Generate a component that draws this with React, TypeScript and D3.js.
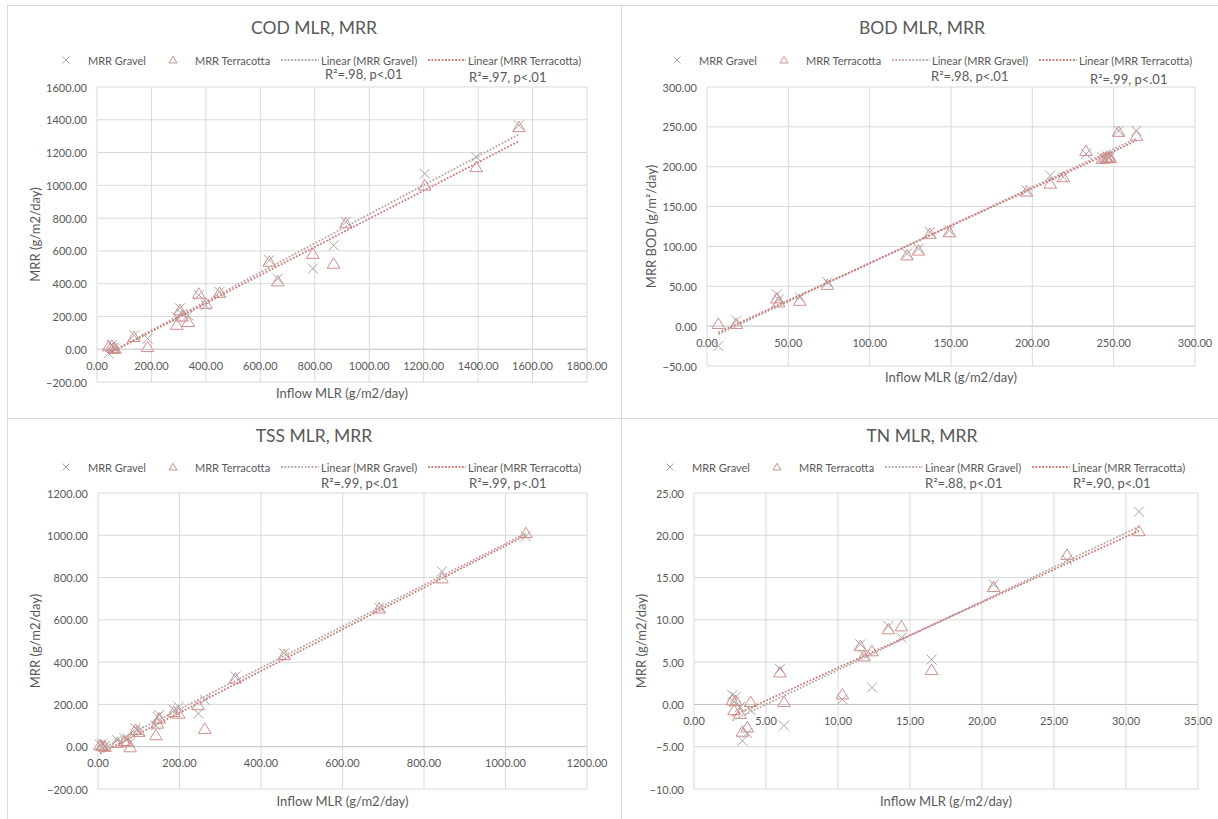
import React from 'react'
import * as d3 from 'd3'

// ---- data ----
const codInflow = [43, 55, 60, 66, 136, 186, 293, 305, 312, 335, 374, 400, 450, 633, 664, 793, 869, 914, 1204, 1393, 1550]
const codGravel = [-26, 25, 10, 5, 85, 65, 197, 250, 215, 207, 330, 268, 350, 543, 431, 492, 634, 777, 1071, 1173, 1366]
const codTerra = [18, 22, 8, 3, 75, 14, 150, 238, 200, 167, 340, 278, 345, 535, 415, 583, 523, 770, 1000, 1112, 1356]

const bodInflow = [7, 18, 43, 44, 57, 74, 123, 130, 137, 149, 196.5, 211, 219, 233, 243, 245, 246, 247, 248, 253, 264]
const bodGravel = [-25, 7, 40, 33, 36, 55, 91, 97, 118, 120, 170, 189, 187, 216, 212, 210, 213, 211, 214, 245, 245]
const bodTerra = [3, 3, 35, 30, 32, 52, 89, 95, 116, 118, 169, 179, 187, 220, 210, 211, 211, 212, 211, 244, 239]

const tssInflow = [5, 10, 17, 47, 65, 72, 79, 92, 100, 142, 146, 150, 186, 198, 246, 262, 337, 457, 690, 844, 1050]
const tssGravel = [8, 12, 3, 31, 40, 39, 20, 86, 75, 100, 141, 150, 174, 189, 157, 221, 332, 442, 658, 829, 995]
const tssTerra = [8, 5, 0, 19, 28, 24, -2, 80, 71, 55, 110, 134, 165, 157, 197, 85, 323, 434, 655, 797, 1011]

const tnInflow = [2.66, 2.78, 2.9, 3.2, 3.36, 3.7, 3.93, 5.97, 6.25, 10.3, 11.55, 11.8, 12.36, 13.5, 14.4, 16.5, 20.8, 25.9, 30.9]
const tnGravel = [1.1, 0.3, 0.9, -0.3, -4.3, -3.4, -0.66, 4.2, -2.5, 0.6, 7.1, 5.9, 2.0, 9.25, 7.9, 5.3, 14.2, 17.1, 22.8]
const tnTerra = [0.5, -0.66, 0.4, -1.1, -3.2, -2.7, 0.3, 3.8, 0.3, 1.2, 6.9, 5.7, 6.3, 8.9, 9.25, 4.1, 13.9, 17.7, 20.5]

const titles = ['COD MLR, MRR', 'BOD MLR, MRR', 'TSS MLR, MRR', 'TN MLR, MRR']
const yTitles = ['MRR (g/m2/day)', 'MRR BOD (g/m\u00b2/day)', 'MRR (g/m2/day)', 'MRR (g/m2/day)']
const xTitle = 'Inflow MLR (g/m2/day)'
const legendLabels = ['MRR Gravel', 'MRR Terracotta', 'Linear (MRR Gravel)', 'Linear (MRR Terracotta)']
const r2Gravel = ['R\u00b2=.98, p<.01', 'R\u00b2=.98, p<.01', 'R\u00b2=.99, p<.01', 'R\u00b2=.88, p<.01']
const r2Terra = ['R\u00b2=.97, p<.01', 'R\u00b2=.99, p<.01', 'R\u00b2=.99, p<.01', 'R\u00b2=.90, p<.01']
const xDomains = [[0, 1800], [0, 300], [0, 1200], [0, 35]]
const yDomains = [[-200, 1600], [-50, 300], [-200, 1200], [-10, 25]]
const xSteps = [200, 50, 200, 5]
const ySteps = [200, 50, 200, 5]

const FONT = 'Lato, "Open Sans", sans-serif'
const TEXT = '#595959'
const GRID = '#d9d9d9'
const GRAVEL = '#a6a6a6'
const TERRA = '#cf8f8a'
const GRAVEL_LINE = '#bfa5a4'
const TERRA_LINE = '#cc7b76'

// panel layout (pixel boxes)
const layout = [
  { x0: 0, l: 97, r: 587, t: 87, b: 382, titleY: 27, legY: 60, yT: 35, xT: 393, shift: 0, r2: [[325, 74], [469, 77]] },
  { x0: 608, l: 707, r: 1195, t: 87, b: 366, titleY: 27, legY: 60, yT: 651, xT: 377, shift: 3, r2: [[931, 76], [1090, 79]] },
  { x0: 0, l: 98, r: 587, t: 493, b: 789, titleY: 435, legY: 467, yT: 35, xT: 801, shift: 0, r2: [[321, 483], [469, 483]] },
  { x0: 608, l: 694, r: 1198, t: 493, b: 789, titleY: 435, legY: 467, yT: 641, xT: 801, shift: -4, r2: [[925, 483], [1073, 483]] },
]

function fit(xs: number[], ys: number[]) {
  const mx = d3.mean(xs)!, my = d3.mean(ys)!
  let sxy = 0, sxx = 0
  xs.forEach((x, i) => { sxy += (x - mx) * (ys[i] - my); sxx += (x - mx) ** 2 })
  const m = sxy / sxx
  return { m, c: my - m * mx }
}

const xMark = (s: number) => `M${-s},${-s}L${s},${s}M${-s},${s}L${s},${-s}`
const triMark = (s: number) => `M0,${-s * 1.05}L${s * 1.15},${s * 0.85}L${-s * 1.15},${s * 0.85}Z`

function Panel({ i, xs, g, t }: { i: number; xs: number[]; g: number[]; t: number[] }) {
  const L = layout[i]
  const x = d3.scaleLinear().domain(xDomains[i]).range([L.l, L.r])
  const y = d3.scaleLinear().domain(yDomains[i]).range([L.b, L.t])
  const xt = d3.range(xDomains[i][0], xDomains[i][1] + 1e-9, xSteps[i])
  const yt = d3.range(yDomains[i][0], yDomains[i][1] + 1e-9, ySteps[i])
  const fmt = d3.format('.2f')
  const [x1, x2] = d3.extent(xs) as [number, number]
  const fg = fit(xs, g)
  const ft = fit(xs, t)
  const lx = L.x0 + L.shift
  const dots = '1.8 1.6'
  return (
    <g fontFamily={FONT} fill={TEXT}>
      <text x={L.x0 + 314} y={L.titleY} fontSize={17.5} textAnchor="middle" dominantBaseline="central">{titles[i]}</text>
      {/* legend */}
      <path d={xMark(3.5)} transform={`translate(${lx + 66},${L.legY})`} stroke={GRAVEL} fill="none" />
      <text x={lx + 88} y={L.legY} fontSize={11} dominantBaseline="central">{legendLabels[0]}</text>
      <path d={triMark(3.5)} transform={`translate(${lx + 173},${L.legY})`} stroke={TERRA} fill="none" />
      <text x={lx + 195} y={L.legY} fontSize={11} dominantBaseline="central">{legendLabels[1]}</text>
      <line x1={lx + 281} x2={lx + 319} y1={L.legY} y2={L.legY} stroke={GRAVEL_LINE} strokeWidth={1.8} strokeDasharray={dots} />
      <text x={lx + 321} y={L.legY} fontSize={11} dominantBaseline="central">{legendLabels[2]}</text>
      <line x1={lx + 428} x2={lx + 466} y1={L.legY} y2={L.legY} stroke={TERRA_LINE} strokeWidth={1.8} strokeDasharray={dots} />
      <text x={lx + 468} y={L.legY} fontSize={11} dominantBaseline="central">{legendLabels[3]}</text>
      <text x={L.r2[0][0]} y={L.r2[0][1]} fontSize={13} dominantBaseline="central">{r2Gravel[i]}</text>
      <text x={L.r2[1][0]} y={L.r2[1][1]} fontSize={13} dominantBaseline="central">{r2Terra[i]}</text>
      {/* grid */}
      {yt.map((v) => (
        <line key={'h' + v} x1={L.l} x2={L.r} y1={y(v)} y2={y(v)} stroke={v === 0 ? '#bfbfbf' : GRID} />
      ))}
      {xt.map((v) => (
        <line key={'v' + v} x1={x(v)} x2={x(v)} y1={L.t} y2={L.b} stroke={GRID} />
      ))}
      {yt.map((v) => (
        <text key={'yl' + v} x={L.l - 10} y={y(v)} fontSize={11} textAnchor="end" dominantBaseline="central">{fmt(v)}</text>
      ))}
      {xt.map((v) => (
        <text key={'xl' + v} x={x(v)} y={y(0) + 16} fontSize={11} textAnchor="middle" dominantBaseline="central">{fmt(v)}</text>
      ))}
      <text x={(L.l + L.r) / 2} y={L.xT} fontSize={13} textAnchor="middle" dominantBaseline="central">{xTitle}</text>
      <text transform={`translate(${L.yT},${(L.t + L.b) / 2}) rotate(-90)`} fontSize={13} textAnchor="middle" dominantBaseline="central">{yTitles[i]}</text>
      {/* markers */}
      {xs.map((v, k) => (
        <path key={'g' + k} d={xMark(5)} transform={`translate(${x(v)},${y(g[k])})`} stroke={GRAVEL} fill="none" />
      ))}
      {xs.map((v, k) => (
        <path key={'t' + k} d={triMark(5.5)} transform={`translate(${x(v)},${y(t[k])})`} stroke={TERRA} fill="none" />
      ))}
      <line x1={x(x1)} x2={x(x2)} y1={y(fg.m * x1 + fg.c)} y2={y(fg.m * x2 + fg.c)} stroke={GRAVEL_LINE} strokeWidth={1.8} strokeDasharray={dots} />
      <line x1={x(x1)} x2={x(x2)} y1={y(ft.m * x1 + ft.c)} y2={y(ft.m * x2 + ft.c)} stroke={TERRA_LINE} strokeWidth={1.8} strokeDasharray={dots} />
    </g>
  )
}

export default function App() {
  return (
    <svg width={1218} height={819} style={{ position: 'absolute', left: 0, top: 0, background: '#fff' }}>
      <rect width={1218} height={819} fill="#fff" />
      {/* panel frames */}
      <line x1={7} x2={1218} y1={5.5} y2={5.5} stroke={GRID} />
      <line x1={7} x2={1218} y1={418.5} y2={418.5} stroke={GRID} />
      <line x1={7.5} x2={7.5} y1={5} y2={819} stroke={GRID} />
      <line x1={621.5} x2={621.5} y1={5} y2={819} stroke={GRID} />
      <Panel i={0} xs={codInflow} g={codGravel} t={codTerra} />
      <Panel i={1} xs={bodInflow} g={bodGravel} t={bodTerra} />
      <Panel i={2} xs={tssInflow} g={tssGravel} t={tssTerra} />
      <Panel i={3} xs={tnInflow} g={tnGravel} t={tnTerra} />
    </svg>
  )
}
